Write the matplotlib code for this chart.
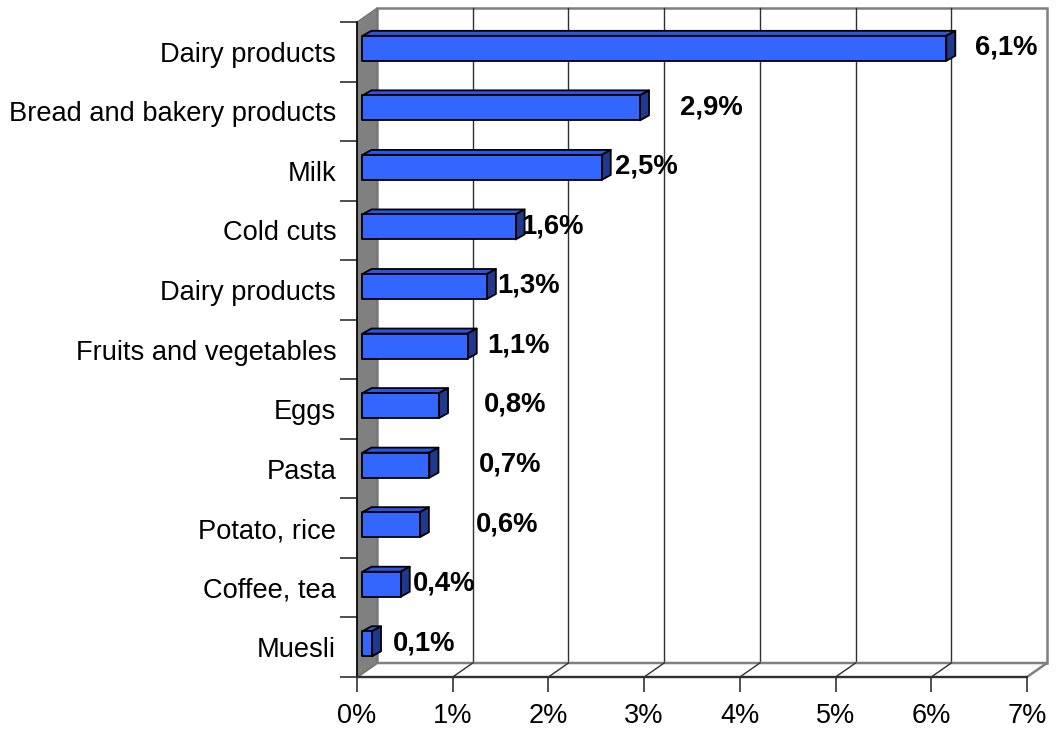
import numpy as np
import matplotlib
matplotlib.use("Agg")
import matplotlib.pyplot as plt
from matplotlib.patches import Polygon

plt.rcParams["font.family"] = ["Liberation Sans", "DejaVu Sans"]

# ── Data (top to bottom) ───────────────────────────────────────────────────────
categories = ["Dairy products", "Bread and bakery products", "Milk", "Cold cuts",
              "Dairy products", "Fruits and vegetables", "Eggs", "Pasta",
              "Potato, rice", "Coffee, tea", "Muesli"]
values = [6.1, 2.9, 2.5, 1.6, 1.3, 1.1, 0.8, 0.7, 0.6, 0.4, 0.1]
value_labels = ["6,1%", "2,9%", "2,5%", "1,6%", "1,3%", "1,1%",
                "0,8%", "0,7%", "0,6%", "0,4%", "0,1%"]
x_ticks = [0, 1, 2, 3, 4, 5, 6, 7]
x_tick_labels = ["0%", "1%", "2%", "3%", "4%", "5%", "6%", "7%"]

# horizontal gap between bar end and its value label (in % units)
label_shift = [0.36, 0.475, 0.20, 0.12, 0.17, 0.26, 0.53, 0.57, 0.64, 0.185, 0.276]

# ── 3-D look (in data units) ───────────────────────────────────────────────────
XMAX = 7
N = len(categories)
DX, DY = 0.209, 0.235          # wall depth
BDX, BDY = 0.094, 0.084        # bar depth
FX, FY = 0.057, 0.058          # bar front offset into the box
HALF_H = 0.21                  # half bar height

FRONT = "#3366ff"
TOP = "#2b57de"
SIDE = "#1f3a8c"
WALL = "#808080"

fig = plt.figure(figsize=(10.56, 7.31), dpi=100)
ax = fig.add_axes([357 / 1056, 54 / 731, 670 / 1056, 655 / 731])
ax.set_xlim(0, XMAX)
ax.set_ylim(0, N)
ax.patch.set_visible(False)

# back wall + gridlines
ax.add_patch(Polygon([(DX, DY), (XMAX + DX, DY), (XMAX + DX, N + DY), (DX, N + DY)],
                     closed=True, fc="white", ec=WALL, lw=1.8, clip_on=False, zorder=0))
for k in x_ticks[1:-1]:
    ax.plot([k + DX, k + DX], [DY, N + DY], color="#303030", lw=1.0, clip_on=False, zorder=1)

# floor
ax.add_patch(Polygon([(0, 0), (XMAX, 0), (XMAX + DX, DY), (DX, DY)],
                     closed=True, fc="white", ec=WALL, lw=1.8, clip_on=False, zorder=1))
for k in x_ticks[1:-1]:
    ax.plot([k, k + DX], [0, DY], color="#303030", lw=1.0, clip_on=False, zorder=2)

# left wall
ax.add_patch(Polygon([(0, 0), (DX, DY), (DX, N + DY), (0, N)],
                     closed=True, fc=WALL, ec="#707070", lw=0.8, clip_on=False, zorder=2))

# bars
for i, (v, lab, sh) in enumerate(zip(values, value_labels, label_shift)):
    yc = N - i - 0.5 + FY
    x0 = FX
    x1 = FX + v
    y0, y1 = yc - HALF_H, yc + HALF_H
    top = [(x0, y1), (x1, y1), (x1 + BDX, y1 + BDY), (x0 + BDX, y1 + BDY)]
    side = [(x1, y0), (x1 + BDX, y0 + BDY), (x1 + BDX, y1 + BDY), (x1, y1)]
    front = [(x0, y0), (x1, y0), (x1, y1), (x0, y1)]
    for pts, col in [(top, TOP), (side, SIDE), (front, FRONT)]:
        ax.add_patch(Polygon(pts, closed=True, fc=col, ec="black", lw=1.3,
                             joinstyle="round", clip_on=False, zorder=4))
    ax.text(v + sh, yc + 0.01, lab, ha="left", va="center", fontsize=19.8,
            fontweight="bold", color="black", zorder=5)

# axes, ticks and labels
for s in ["top", "right"]:
    ax.spines[s].set_visible(False)
ax.spines["left"].set_color("black")
ax.spines["left"].set_linewidth(1.2)
ax.spines["bottom"].set_color("#303030")
ax.spines["bottom"].set_linewidth(1.5)
for s in ["left", "bottom"]:
    ax.spines[s].set_zorder(3)

ax.set_xticks(x_ticks)
ax.set_xticklabels(x_tick_labels, fontsize=19.5)
ax.tick_params(axis="x", direction="out", length=10.8, width=1.2, pad=8, color="#303030")

ax.set_yticks(np.arange(N) + 0.5)
ax.set_yticklabels(categories[::-1], fontsize=19.6)
ax.tick_params(axis="y", which="major", length=0, pad=15)
ax.set_yticks(np.arange(N + 1), minor=True)
ax.tick_params(axis="y", which="minor", direction="out", length=12.2, width=1.2, color="#303030")

fig.savefig("out.png", dpi=100)
